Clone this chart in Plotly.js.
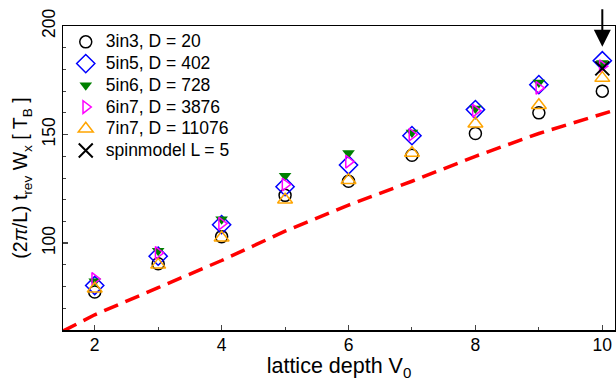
<!DOCTYPE html>
<html>
<head>
<meta charset="utf-8">
<script src="https://cdn.plot.ly/plotly-3.0.1.min.js"></script>
<style>html,body{margin:0;padding:0;background:#fff;}#plot{width:616px;height:381px;}</style>
</head>
<body>
<div id="plot"></div>
<script>
const depth = [2, 3, 4, 5, 6, 7, 8, 9, 10];
const s3in3 = [77.5, 90.5, 103, 122, 128.5, 140.5, 150.5, 160, 170];
const s5in5 = [80.5, 94, 108.5, 126, 136, 149.5, 161.5, 173, 184];
const s5in6 = [82.5, 96.5, 111, 131, 141.5, 151, 162, 174, 183];
const s6in7 = [83.5, 95.5, 109, 127, 137.5, 150, 161, 171.5, 181.5];
const s7in7 = [79, 90, 102.5, 120, 129, 141.5, 155, 163.5, 176];
const spinX = [10];
const spinY = [180.5];
const lineX = [1.5, 2, 3, 4, 5, 6, 7, 8, 9, 10.2];
const lineY = [59.5, 67, 79.5, 92, 105.5, 117.5, 128.5, 140, 150.5, 161.3];
const names = ['3in3, D = 20', '5in5, D = 402', '5in6, D = 728', '6in7, D = 3876', '7in7, D = 11076', 'spinmodel L = 5'];

const font = "Liberation Sans, Arial, sans-serif";
const lg = n => '<span style="font-size:17.5px">' + n + '</span>';
const traces = [
  {x: lineX, y: lineY, mode: 'lines', showlegend: false,
   line: {color: '#ff0000', width: 3.5, dash: '15px,8px'}},
  {x: depth, y: s3in3, mode: 'markers', name: lg(names[0]),
   marker: {symbol: 'circle-open', size: 12, color: '#000000', line: {width: 1.5}}},
  {x: depth, y: s5in5, mode: 'markers', name: lg(names[1]),
   marker: {symbol: 'diamond-open', size: 14, color: '#0000ff', line: {width: 1.5}}},
  {x: depth, y: s5in6, mode: 'markers', name: lg(names[2]),
   marker: {symbol: 'triangle-down', size: 11, color: '#008000'}},
  {x: depth, y: s6in7, mode: 'markers', name: lg(names[3]),
   marker: {symbol: 'triangle-right-open', size: 11, color: '#ff00ff', line: {width: 1.5}}},
  {x: depth, y: s7in7, mode: 'markers', name: lg(names[4]),
   marker: {symbol: 'triangle-up-open', size: 13, color: '#ffa500', line: {width: 1.5}}},
  {x: spinX, y: spinY, mode: 'markers', name: lg(names[5]),
   marker: {symbol: 'x-thin-open', size: 14, color: '#000000', line: {width: 2, color: '#000000'}}}
];

const layout = {
  width: 616, height: 381,
  margin: {l: 63, r: 1, t: 26, b: 51},
  paper_bgcolor: '#fff', plot_bgcolor: '#fff',
  font: {family: font, color: '#000', size: 17},
  showlegend: true,
  legend: {x: 0.005, y: 1.0, xanchor: 'left', yanchor: 'top', bgcolor: 'rgba(0,0,0,0)',
           font: {family: font, size: 14.4, color: '#000'}, tracegroupgap: 0, itemwidth: 30},
  xaxis: {range: [1.5, 10.2], tickvals: [2, 4, 6, 8, 10], ticks: 'inside', ticklen: 5, tickwidth: 1.5,
          ticklabelstandoff: -2,
          showgrid: false, zeroline: false, showline: true, linewidth: 1.5, linecolor: '#000', mirror: true,
          tickfont: {size: 17.5, family: font},
          minor: {tickvals: [3, 5, 7, 9], ticks: 'inside', ticklen: 3, tickwidth: 1, showgrid: false},
          title: {text: 'lattice depth V<sub>0</sub>', font: {size: 21.5, family: font}, standoff: 6}},
  yaxis: {range: [60, 200], tickvals: [100, 150, 200], ticks: 'inside', ticklen: 5, tickwidth: 1.5,
          tickangle: -90, showgrid: false, zeroline: false, showline: true, linewidth: 1.5, linecolor: '#000', mirror: true,
          tickfont: {size: 17.5, family: font},
          minor: {dtick: 10, ticks: 'inside', ticklen: 3, tickwidth: 1, showgrid: false},
          title: {text: '(2<i>π</i>/L) t<sub>rev</sub> W<sub>x</sub> [ T<sub>B</sub> ]', font: {size: 19.5, family: font}, standoff: 5}},
  annotations: [{x: 10, y: 190.5, xref: 'x', yref: 'y', ax: 0, ay: -39, text: '', showarrow: true,
                 arrowhead: 2, arrowsize: 1.7, arrowwidth: 2, arrowcolor: '#000'}]
};

Plotly.newPlot('plot', traces, layout, {displayModeBar: false, staticPlot: true});
</script>
</body>
</html>
